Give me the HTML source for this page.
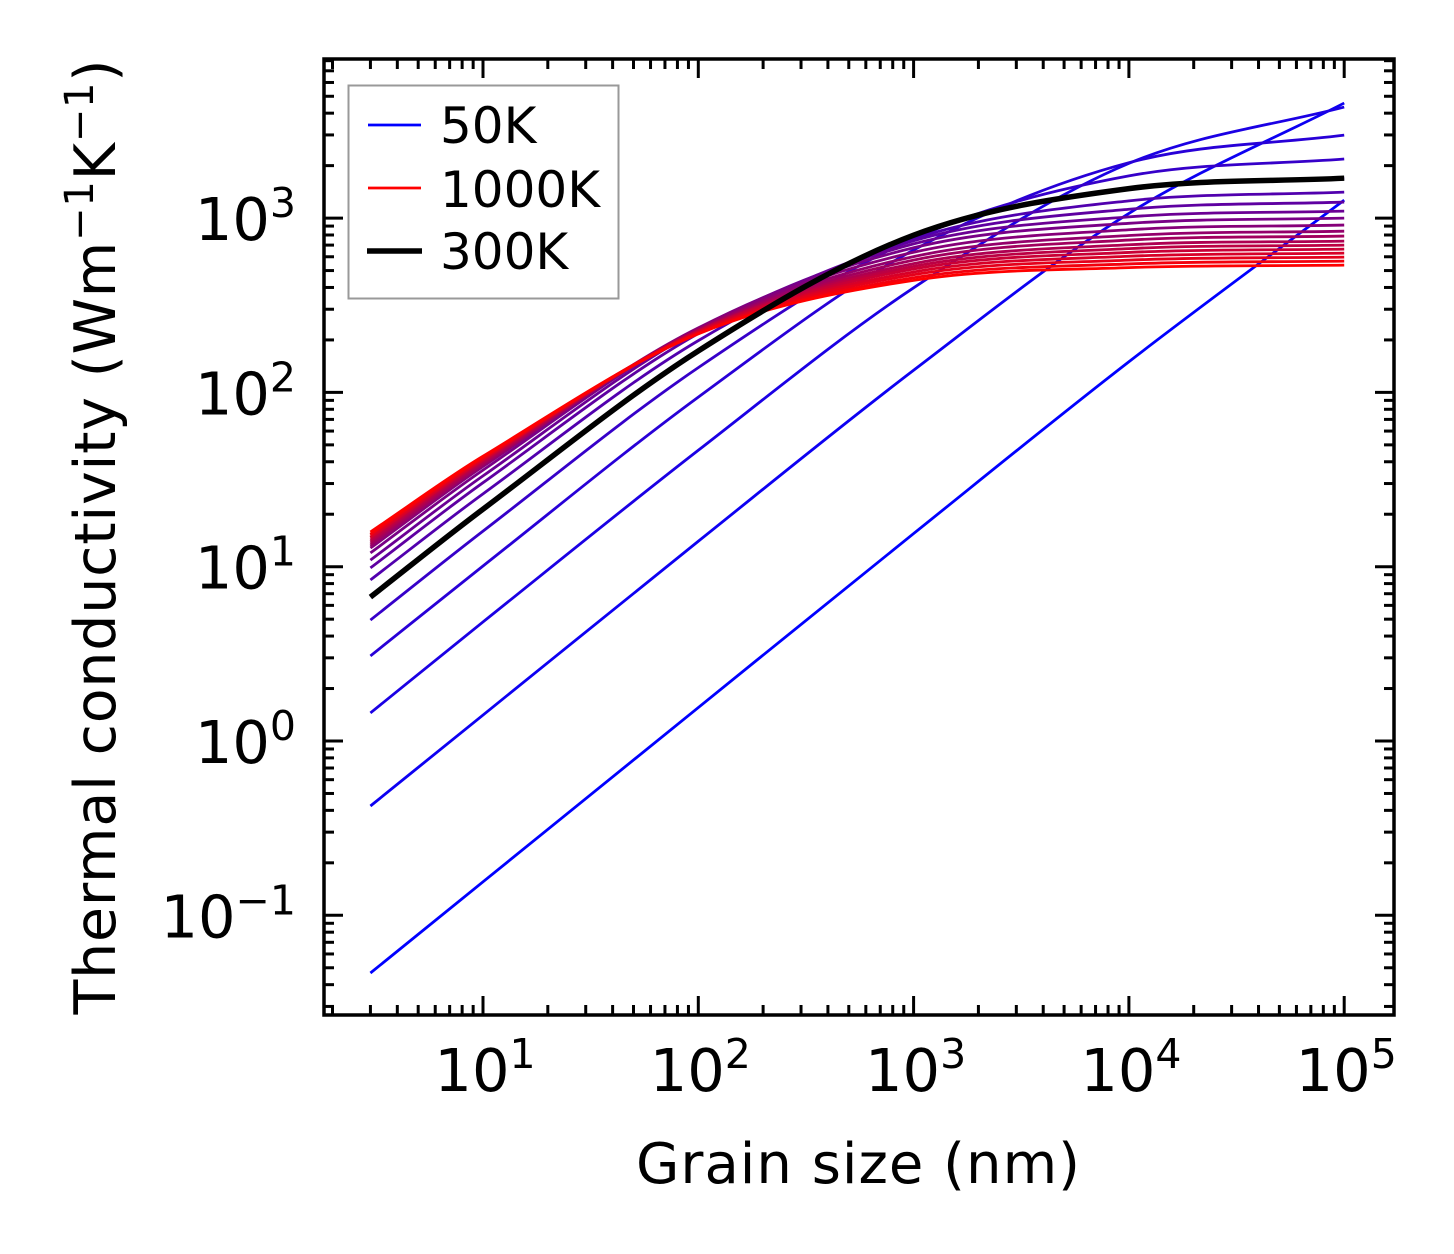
<!DOCTYPE html>
<html><head><meta charset="utf-8"><style>
html,body{margin:0;padding:0;background:#fff;}
svg{display:block;font-family:"DejaVu Sans","Liberation Sans",sans-serif;}
</style></head><body>
<svg id="chart" width="1454" height="1254" viewBox="0 0 1454 1254" xmlns="http://www.w3.org/2000/svg">
<rect width="1454" height="1254" fill="#fff"/>
<g id="curves"></g>
<g id="ticks"></g>
<rect x="324" y="59" width="1070" height="956" fill="none" stroke="#000" stroke-width="3.5"/>
<g id="xlabels"></g>
<g id="ylabels"></g>
<text x="858" y="1183" font-size="56" text-anchor="middle" textLength="444">Grain size (nm)</text>
<text transform="translate(115,537) rotate(-90)" font-size="57" text-anchor="middle" textLength="955">Thermal conductivity (Wm<tspan font-size="40" dy="-22">−1</tspan><tspan dy="22">K</tspan><tspan font-size="40" dy="-22">−1</tspan><tspan dy="22">)</tspan></text>
<g>
<rect x="348.5" y="85.5" width="270" height="213" fill="#fff" stroke="#999" stroke-width="2"/>
<line x1="368" y1="125" x2="421" y2="125" stroke="#0000ff" stroke-width="2.8"/>
<text x="440" y="143" font-size="50">50K</text>
<line x1="368" y1="188" x2="421" y2="188" stroke="#ff0000" stroke-width="2.8"/>
<text x="440" y="207" font-size="50">1000K</text>
<line x1="367" y1="251" x2="422" y2="251" stroke="#000" stroke-width="5.5"/>
<text x="440" y="269" font-size="50">300K</text>
</g>
</svg>
<script>
// grain sizes (nm) at which values are sampled
const grainSizes = [3, 10, 100, 1000, 10000, 100000];
const temperatures = [50,100,150,200,250,300,350,400,450,500,550,600,650,700,750,800,850,900,950,1000];
// log10 thermal conductivity for each temperature at grainSizes
const logK50 = [-1.331,-0.808,0.192,1.190,2.176,3.103];
const logK100 = [-0.373,0.149,1.146,2.127,3.027,3.660];
const logK150 = [0.161,0.683,1.668,2.600,3.314,3.637];
const logK200 = [0.488,1.004,1.973,2.817,3.318,3.476];
const logK250 = [0.694,1.204,2.142,2.882,3.242,3.339];
const logK300 = [0.826,1.330,2.238,2.902,3.169,3.229];
const logK350 = [0.924,1.418,2.297,2.881,3.099,3.149];
const logK400 = [0.993,1.482,2.338,2.870,3.051,3.092];
const logK450 = [1.038,1.521,2.359,2.852,3.007,3.040];
const logK500 = [1.079,1.554,2.369,2.830,2.970,3.000];
const logK550 = [1.107,1.575,2.370,2.804,2.933,2.960];
const logK600 = [1.119,1.582,2.364,2.779,2.900,2.925];
const logK650 = [1.130,1.589,2.359,2.759,2.874,2.897];
const logK700 = [1.142,1.597,2.355,2.739,2.847,2.868];
const logK750 = [1.153,1.605,2.353,2.723,2.825,2.845];
const logK800 = [1.165,1.613,2.351,2.708,2.803,2.822];
const logK850 = [1.170,1.615,2.345,2.691,2.781,2.799];
const logK900 = [1.182,1.624,2.343,2.675,2.759,2.776];
const logK950 = [1.187,1.626,2.337,2.658,2.737,2.753];
const logK1000 = [1.199,1.634,2.336,2.643,2.716,2.730];
const xTickExps = [1,2,3,4,5];
const yTickExps = [-1,0,1,2,3];
const yTickLabels = ["−1","0","1","2","3"];

const series = [logK50,logK100,logK150,logK200,logK250,logK300,logK350,logK400,logK450,logK500,logK550,logK600,logK650,logK700,logK750,logK800,logK850,logK900,logK950,logK1000];
const NS = "http://www.w3.org/2000/svg";
function xPix(L){ return 483 + (Math.log10(L) - 1) * 215.3; }
function yPix(lk){ return 741 - lk * 174.3; }
function mk(tag, attrs, parent){ const e = document.createElementNS(NS, tag); for (const k in attrs) e.setAttribute(k, attrs[k]); parent.appendChild(e); return e; }

function pathFor(vals){
  const pts = grainSizes.map((g,i)=>[xPix(g), yPix(vals[i])]);
  let d = "M" + pts[0][0].toFixed(2) + "," + pts[0][1].toFixed(2);
  for (let i=0;i<pts.length-1;i++){
    const p0 = pts[Math.max(0,i-1)], p1 = pts[i], p2 = pts[i+1], p3 = pts[Math.min(pts.length-1,i+2)];
    const d1 = p2[0]-p1[0];
    const m1 = [(p2[0]-p0[0]) , (p2[1]-p0[1])];
    const m2 = [(p3[0]-p1[0]) , (p3[1]-p1[1])];
    const s1 = d1/(m1[0]||1)/3, s2 = d1/(m2[0]||1)/3;
    const c1 = [p1[0]+m1[0]*s1, p1[1]+m1[1]*s1];
    const c2 = [p2[0]-m2[0]*s2, p2[1]-m2[1]*s2];
    d += " C"+c1[0].toFixed(2)+","+c1[1].toFixed(2)+" "+c2[0].toFixed(2)+","+c2[1].toFixed(2)+" "+p2[0].toFixed(2)+","+p2[1].toFixed(2);
  }
  return d;
}

const cg = document.getElementById("curves");
let blackPath = null;
series.forEach((vals, i) => {
  const f = i / (series.length - 1);
  const col = "rgb(" + Math.round(255*f) + ",0," + Math.round(255*(1-f)) + ")";
  const p = mk("path", {d: pathFor(vals), fill:"none", stroke: col, "stroke-width": 2.8}, cg);
  
  
  if (temperatures[i] === 300) blackPath = vals;
});
const bp = mk("path", {d: pathFor(blackPath), fill:"none", stroke:"#000", "stroke-width": 5.5}, cg);



// ticks
const tg = document.getElementById("ticks");
const X0=324, X1=1394, Y0=59, Y1=1015;
function xt(x, len){
  const a = mk("line",{x1:x,x2:x,y1:Y1,y2:Y1-len,stroke:"#000","stroke-width":3},tg);
  
  
  const b = mk("line",{x1:x,x2:x,y1:Y0,y2:Y0+len,stroke:"#000","stroke-width":3},tg);
  
  
}
function yt(y, len){
  const a = mk("line",{x1:X0,x2:X0+len,y1:y,y2:y,stroke:"#000","stroke-width":3},tg);
  
  
  const b = mk("line",{x1:X1,x2:X1-len,y1:y,y2:y,stroke:"#000","stroke-width":3},tg);
  
  
}
for (let e=0;e<=5;e++){
  for (let m=1;m<10;m++){
    const x = xPix(m*Math.pow(10,e));
    if (x<=X0+1 || x>=X1-1) continue;
    xt(x, m===1?19:10);
  }
}
for (let e=-2;e<=3;e++){
  for (let m=1;m<10;m++){
    const y = yPix(e + Math.log10(m));
    if (y<=Y0+1 || y>=Y1-1) continue;
    yt(y, m===1?19:10);
  }
}
const xl = document.getElementById("xlabels");
xTickExps.forEach(e=>{
  const x = xPix(Math.pow(10,e));
  const t = mk("text",{x:x+2,y:1091,"font-size":59,"text-anchor":"middle"},xl);
  
  
  t.appendChild(document.createTextNode("10"));
  const s = mk("tspan",{"font-size":41,dy:-23},t);
  s.textContent = String(e);
});
const yl = document.getElementById("ylabels");
yTickExps.forEach((e,i)=>{
  const y = yPix(e);
  const t = mk("text",{x:296,y:y+22,"font-size":59,"text-anchor":"end"},yl);
  
  
  t.appendChild(document.createTextNode("10"));
  const s = mk("tspan",{"font-size":41,dy:-23},t);
  s.textContent = yTickLabels[i];
});
</script>
</body></html>
